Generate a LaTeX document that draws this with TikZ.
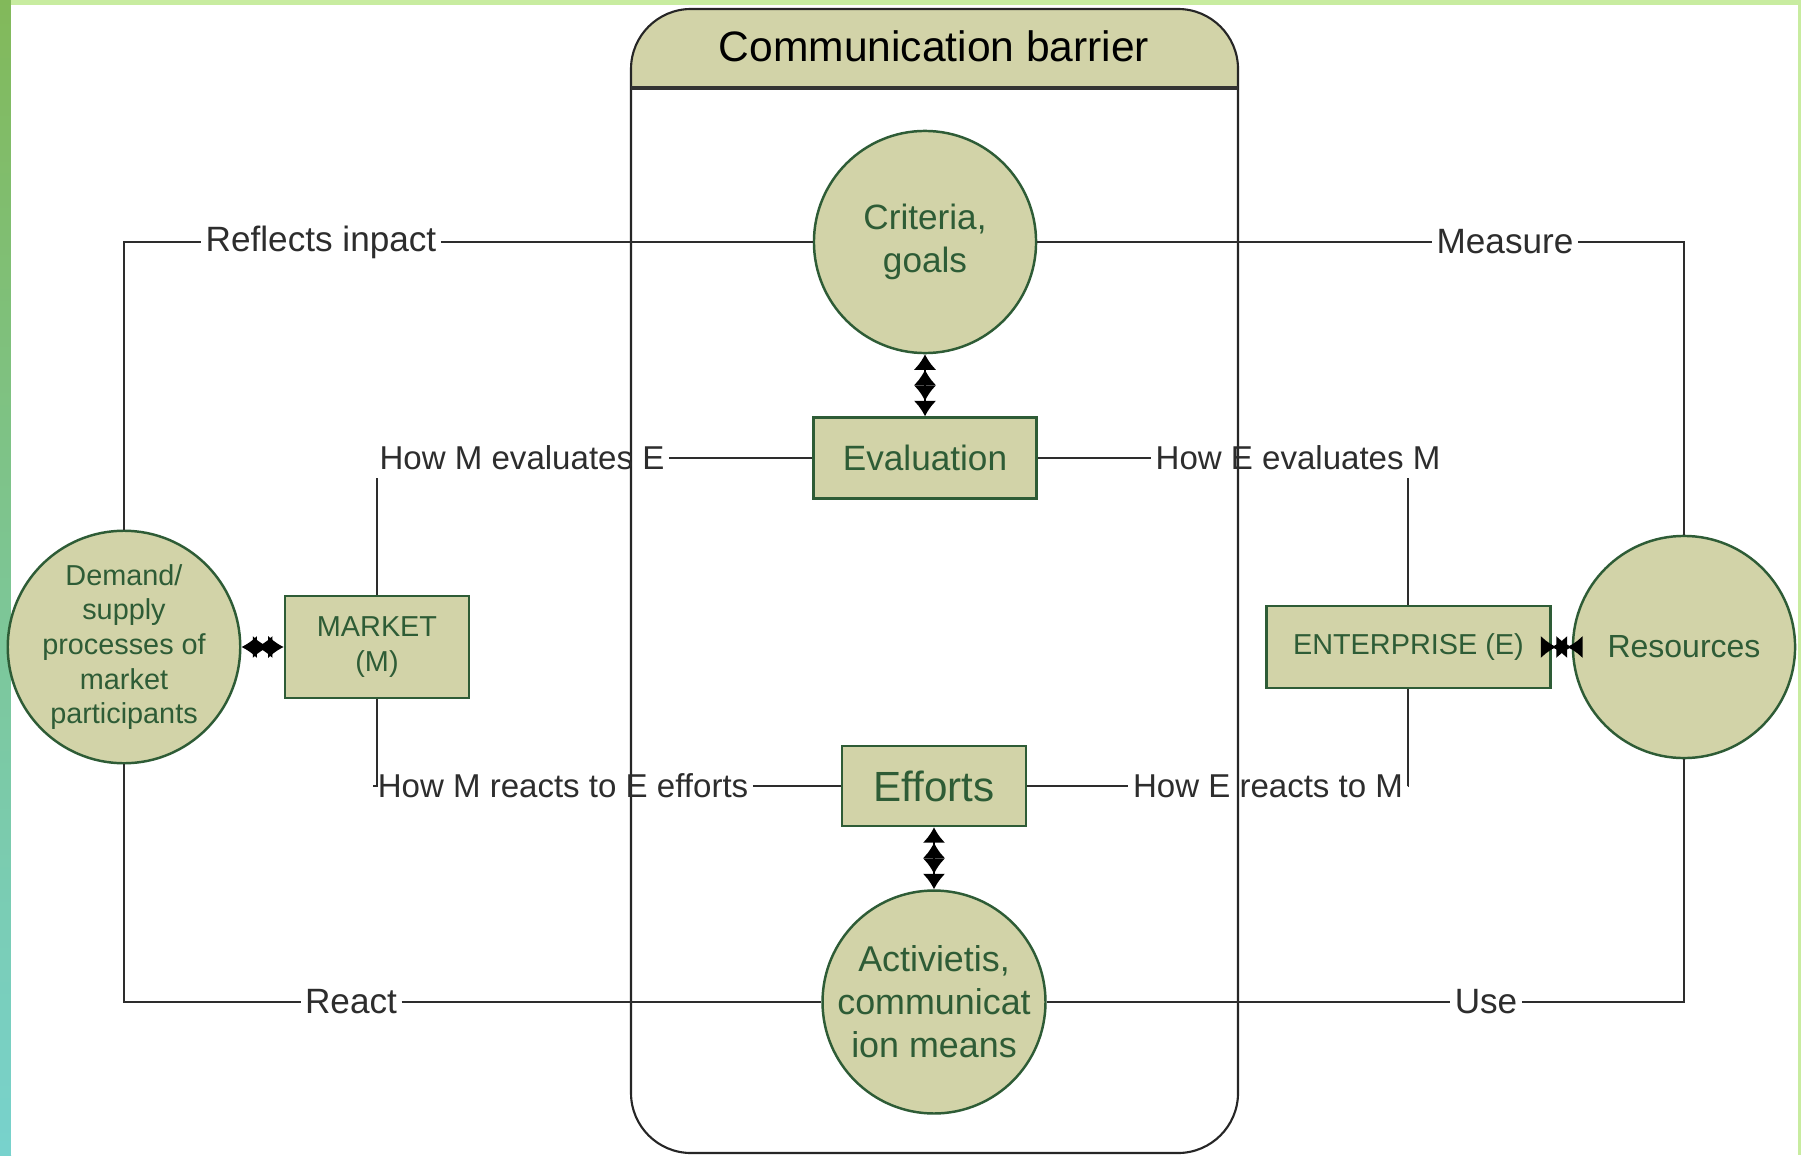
\documentclass[tikz,border=0pt]{standalone}
\usepackage{fontspec}
\setmainfont{Liberation Sans}
\usepackage{tikz}
\usetikzlibrary{arrows.meta,positioning,calc}
\definecolor{khaki}{RGB}{210,211,168}
\definecolor{leaf}{RGB}{46,92,54}
\definecolor{wire}{RGB}{45,45,45}
\definecolor{slidegreen}{RGB}{130,185,90}
\definecolor{slidelight}{RGB}{200,236,160}
\definecolor{slideaqua}{RGB}{120,210,205}
\newcommand{\fsz}[1]{\fontsize{#1}{1.2\dimexpr#1pt\relax}\selectfont}

\begin{document}
\begin{tikzpicture}[x=0.01cm,y=-0.01cm,>={Latex[length=4.4pt,width=6.4pt]},line width=0.6pt,font=\fsz{10}]
  \tikzstyle{disc}=[circle,draw=leaf,fill=khaki,text=leaf,line width=0.7pt,minimum size=2.22cm,inner sep=0pt,align=center]
  \tikzstyle{block}=[rectangle,draw=leaf,fill=khaki,text=leaf,line width=0.7pt,inner sep=0pt,align=center]
  \tikzstyle{tag}=[inner xsep=1pt,inner ysep=2pt,text=wire]
  \tikzstyle{link}=[draw=wire]
  \tikzstyle{twin}=[draw=black,<<->>]

  \useasboundingbox (0,0) rectangle (1801,1155);
  \shade[top color=slidegreen,middle color=slidelight,bottom color=slideaqua] (0,0) rectangle (11,1155);
  \fill[slidelight] (11,0) rectangle (1801,5);
  \fill[slidelight] (1798,5) rectangle (1801,1155);
  \fill[white] (11,5) rectangle (1798,1155);

  \begin{scope}
    \clip (600,0) rectangle (1300,88);
    \fill[khaki,rounded corners=0.6cm] (631,9) rectangle (1238,400);
  \end{scope}
  \draw[black!85,rounded corners=0.6cm] (631,9) rectangle (1238,1153);
  \draw[black!80,line width=1.2pt] (631,88) -- (1238,88);
  \node[font=\fsz{12.1}] (bar) at (934,46) {Communication barrier};

  \node[disc,font=\fsz{8.2}] (dem) at (124,647) {Demand/\\supply\\processes of\\market\\participants};
  \node[block,minimum width=1.84cm,minimum height=1.02cm,font=\fsz{8.2}] (mkt) at (377,647) {MARKET\\(M)};
  \node[disc] (crit) at (925,242) {Criteria,\\goals};
  \node[block,minimum width=2.23cm,minimum height=0.81cm,below=0.62cm of crit] (eval) {Evaluation};
  \node[disc,font=\fsz{10.2}] (act) at (934,1002) {Activietis,\\communicat\\ion means};
  \node[block,minimum width=1.84cm,minimum height=0.80cm,font=\fsz{12},above=0.62cm of act] (eff) {Efforts};
  \node[disc,font=\fsz{9.1}] (res) at (1684,647) {Resources};
  \node[block,minimum width=2.84cm,minimum height=0.82cm,font=\fsz{8.2},left=0.2cm of res] (ent) {ENTERPRISE (E)};

  \node[tag] (refl) at (321,0 |- crit) {Reflects inpact};
  \node[tag] (meas) at (1505,0 |- crit) {Measure};
  \node[tag] (react) at (351,0 |- act) {React};
  \node[tag] (use) at (1486,0 |- act) {Use};
  \node[tag,font=\fsz{9.4}] (mev) at (522,0 |- eval) {How M evaluates E};
  \node[tag,font=\fsz{9.4}] (eev) at (1298,0 |- eval) {How E evaluates M};
  \node[tag,font=\fsz{9.4}] (mre) at (563,0 |- eff) {How M reacts to E efforts};
  \node[tag,font=\fsz{9.4}] (ere) at (1268,0 |- eff) {How E reacts to M};

  \path[link] (dem.north) |- (refl.west) (refl.east) -- (crit.west);
  \path[link] (crit.east) -- (meas.west) (meas.east) -| (res.north);
  \path[link] (dem.south) |- (react.west) (react.east) -- (act.west);
  \path[link] (act.east) -- (use.west) (use.east) -| (res.south);
  \path[link] (eval.west) -- (mev.east) (mkt.north) -- (mkt.north |- mev.south);
  \path[link] (eval.east) -- (eev.west) (ent.north) -- (ent.north |- eev.south);
  \path[link] (mkt.south) |- (mre.west) (mre.east) -- (eff.west);
  \path[link] (eff.east) -- (ere.west) (ere.east) -| (ent.south);

  \draw[twin] (crit) -- (eval);
  \draw[twin] (eff) -- (act);
  \draw[twin] (dem) -- (mkt);
  \draw[twin] (ent) -- (res);
\end{tikzpicture}
\end{document}
